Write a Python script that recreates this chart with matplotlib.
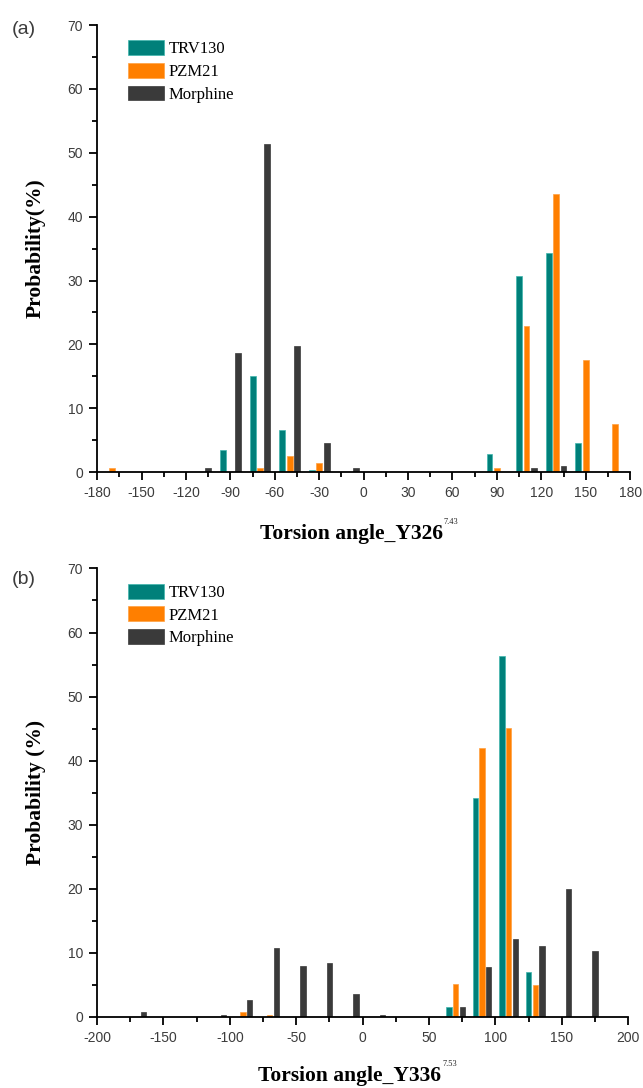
import numpy as np
import matplotlib
matplotlib.use('Agg')
import matplotlib.pyplot as plt
from matplotlib.ticker import MultipleLocator

plt.rcParams['axes.unicode_minus'] = False

# Bin centres (deg) shared by both panels
bins = np.arange(-170, 171, 20)

# Panel (a): Y326 torsion angle probabilities (%)
trv_a = [0, 0, 0, 0, 3.5, 15.1, 6.6, 0.3, 0, 0, 0, 0, 0, 2.9, 30.7, 34.3, 4.5, 0]
pzm_a = [0.7, 0, 0, 0, 0, 0.7, 2.6, 1.5, 0, 0, 0, 0, 0, 0.7, 22.9, 43.5, 17.5, 7.6]
mor_a = [0, 0, 0, 0.7, 18.7, 51.4, 19.8, 4.5, 0.7, 0, 0, 0, 0, 0, 0.7, 0.9, 0, 0]

# Panel (b): Y336 torsion angle probabilities (%)
trv_b = [0, 0, 0, 0, 0, 0, 0, 0, 0, 0, 0, 0, 1.46, 34.2, 56.4, 7.0, 0, 0]
pzm_b = [0, 0, 0, 0, 0.8, 0.26, 0, 0, 0, 0, 0, 0, 5.1, 41.9, 45.1, 4.9, 0, 0]
mor_b = [0.7, 0, 0, 0.25, 2.6, 10.7, 7.9, 8.4, 3.5, 0.2, 0, 0, 1.46, 7.7, 12.1, 11.1, 19.9, 10.2]

labels = ['TRV130', 'PZM21', 'Morphine']
colors = ['#00807a', '#ff7f00', '#3a3a3a']
edges = ['#3fb5ad', '#ffa040', '#3a3a3a']

serif = 'Liberation Serif'
tick_col = '#3c3c3c'

W, H = 643, 1088
fig = plt.figure(figsize=(W / 100, H / 100), dpi=100)
ax1 = fig.add_axes([0.151, 0.566, 0.829, 0.411])
ax2 = fig.add_axes([0.151, 0.0655, 0.826, 0.412])


def draw(ax, series, xlim, xmaj, xmin, ylabel, xlabel):
    offs = [-5, 0, 5]
    for vals, off, c, ec, lab in zip(series, offs, colors, edges, labels):
        ax.bar(bins + off, vals, width=4, color=c, edgecolor=ec, linewidth=0.5, label=lab)
    ax.set_xlim(*xlim)
    ax.set_ylim(0, 70)
    for s in ['top', 'right']:
        ax.spines[s].set_visible(False)
    for s in ['left', 'bottom']:
        ax.spines[s].set_linewidth(1.3)
    ax.xaxis.set_major_locator(MultipleLocator(xmaj))
    ax.xaxis.set_minor_locator(MultipleLocator(xmin))
    ax.yaxis.set_major_locator(MultipleLocator(10))
    ax.yaxis.set_minor_locator(MultipleLocator(5))
    ax.tick_params(which='major', direction='out', length=6, width=1.3,
                   labelsize=10, labelcolor=tick_col, pad=4)
    ax.tick_params(which='minor', direction='out', length=3.5, width=1.3)
    for t in ax.get_xticklabels() + ax.get_yticklabels():
        t.set_fontfamily('Liberation Sans')
    ax.set_ylabel(ylabel, fontfamily=serif, fontweight='bold', fontsize=15.5)
    ax.yaxis.set_label_coords(-0.097, 0.5)
    ax.set_xlabel(xlabel, fontfamily=serif, fontweight='bold', fontsize=15.5)
    ax.xaxis.label.set_va('baseline')
    ax.legend(loc='upper left', bbox_to_anchor=(0.058, 0.966), frameon=False,
              prop={'family': serif, 'size': 12}, handlelength=2.15,
              handleheight=1.0, labelspacing=0.33, handletextpad=0.3,
              borderpad=0, borderaxespad=0)


draw(ax1, [trv_a, pzm_a, mor_a], (-180, 180), 30, 15, 'Probability(%)',
     'Torsion angle_Y326')
ax1.xaxis.set_label_coords(0.477, -0.150)

draw(ax2, [trv_b, pzm_b, mor_b], (-200, 200), 50, 25, 'Probability (%)',
     'Torsion angle_Y336')
ax2.xaxis.set_label_coords(0.476, -0.143)

fig.text(12 / W, 1 - 29 / H, '(a)', fontsize=14, color=tick_col, va='center',
         fontfamily='Liberation Sans')
fig.text(12 / W, 1 - 579 / H, '(b)', fontsize=14, color=tick_col, va='center',
         fontfamily='Liberation Sans')

# small superscripts after the axis titles
fig.canvas.draw()
for ax, sup in [(ax1, '7.43'), (ax2, '7.53')]:
    bb = ax.xaxis.label.get_window_extent()
    base = ax.xaxis.label.get_transform().transform(ax.xaxis.label.get_position())[1]
    fig.text((bb.x1 + 1) / W, (base + 13) / H, sup, fontsize=6,
             fontfamily=serif, color='#222222', va='bottom', ha='left')

fig.savefig('out.png', dpi=100)
